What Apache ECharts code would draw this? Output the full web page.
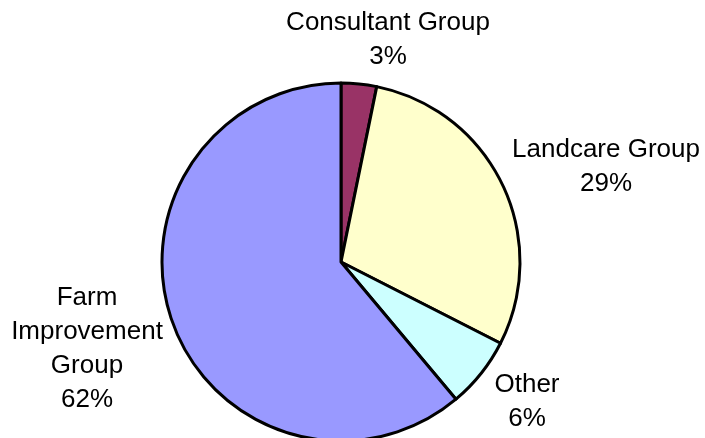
<!DOCTYPE html>
<html>
<head>
<meta charset="utf-8">
<script src="https://cdn.jsdelivr.net/npm/echarts@6/dist/echarts.min.js"></script>
<style>
  html, body { margin: 0; padding: 0; background: #fff; }
  #chart { width: 705px; height: 438px; }
</style>
</head>
<body>
<div id="chart"></div>
<script>
var groupNames = ['Consultant Group', 'Landcare Group', 'Other', 'Farm Improvement Group'];
var groupShares = [3.2, 29.3, 6.4, 61.1];
var shareLabels = ['3%', '29%', '6%', '62%'];
var labelNames = ['Consultant Group', 'Landcare Group', 'Other', 'Farm\nImprovement\nGroup'];

var sliceColors = ['#993366', '#FFFFCC', '#CCFFFF', '#9999FF'];
// where each label block sits (centre)
var labelSpots = [[388, 40], [606, 167], [527, 402], [87, 349]];

var chart = echarts.init(document.getElementById('chart'));

var pieData = groupNames.map(function (n, i) {
    return { name: n, value: groupShares[i], itemStyle: { color: sliceColors[i] } };
});

chart.setOption({
    backgroundColor: '#fff',
    animation: false,
    series: [{
        type: 'pie',
        center: [341, 262],
        radius: 179,
        startAngle: 90,
        clockwise: true,
        data: pieData,
        itemStyle: { borderColor: '#000', borderWidth: 3 },
        label: {
            show: true,
            position: 'outside',
            color: '#000',
            fontFamily: 'Liberation Sans, Arial, sans-serif',
            fontSize: 26,
            lineHeight: 34,
            align: 'center',
            overflow: 'none',
            formatter: function (p) {
                return labelNames[p.dataIndex] + '\n' + shareLabels[p.dataIndex];
            }
        },
        labelLine: { show: false },
        labelLayout: function (p) {
            var s = labelSpots[p.dataIndex];
            return { x: s[0], y: s[1], align: 'center', verticalAlign: 'middle' };
        }
    }]
});
</script>
</body>
</html>
